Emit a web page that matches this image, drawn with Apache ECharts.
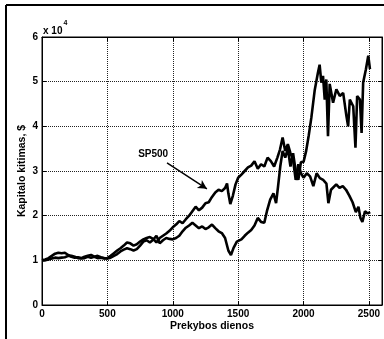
<!DOCTYPE html>
<html><head><meta charset="utf-8">
<script src="https://cdn.jsdelivr.net/npm/echarts@6/dist/echarts.min.js"></script>
<style>html,body{margin:0;padding:0;background:#fff}#c{width:384px;height:339px}</style>
</head><body><div id="c"></div>
<script>
const xTicks = [0, 500, 1000, 1500, 2000, 2500];
const yTicks = [0, 1, 2, 3, 4, 5, 6];
const xName = 'Prekybos dienos';
const yName = 'Kapitalo kitimas, $';
const annotation = 'SP500';

const spDays = [0,25,50,75,100,125,150,175,200,225,250,275,300,325,350,375,400,425,450,475,500,525,550,575,600,625,650,675,700,725,750,775,800,825,850,875,900,925,950,975,1000,1025,1050,1075,1100,1125,1150,1175,1200,1225,1250,1275,1300,1325,1350,1375,1400,1415,1425,1440,1460,1480,1500,1525,1550,1575,1600,1625,1650,1675,1700,1725,1750,1775,1800,1820,1840,1860,1880,1900,1920,1940,1960,1980,2000,2025,2050,2075,2100,2125,2150,2175,2190,2210,2250,2275,2300,2325,2350,2375,2400,2420,2435,2450,2470,2490,2510];
const spVals = [1.00,1.02,1.05,1.10,1.15,1.17,1.16,1.17,1.12,1.08,1.06,1.07,1.05,1.08,1.10,1.12,1.08,1.05,1.06,1.04,1.05,1.10,1.16,1.22,1.27,1.33,1.40,1.38,1.33,1.36,1.42,1.47,1.50,1.52,1.48,1.40,1.50,1.55,1.60,1.66,1.74,1.80,1.88,1.83,1.92,2.00,2.10,2.20,2.12,2.18,2.28,2.30,2.42,2.52,2.58,2.55,2.62,2.72,2.50,2.26,2.45,2.70,2.85,2.92,3.00,3.08,3.12,3.22,3.05,3.15,3.10,3.30,3.22,3.10,3.30,3.48,3.75,3.45,3.60,3.40,3.25,2.80,3.15,2.95,2.85,2.95,2.88,2.66,2.95,2.84,2.80,2.72,2.28,2.58,2.70,2.62,2.66,2.58,2.45,2.30,2.08,2.20,1.95,1.86,2.10,2.05,2.08];

const pfDays = [0,25,50,75,100,125,150,175,200,225,250,275,300,325,350,375,400,425,450,475,500,525,550,575,600,625,650,675,700,725,750,775,800,825,850,875,900,925,950,975,1000,1025,1050,1075,1100,1125,1150,1175,1200,1225,1250,1275,1300,1325,1350,1375,1400,1425,1445,1465,1490,1525,1550,1575,1600,1625,1650,1675,1700,1720,1745,1770,1790,1805,1822,1840,1860,1880,1900,1920,1940,1960,1980,2000,2020,2040,2060,2085,2110,2123,2136,2149,2162,2174,2187,2200,2226,2251,2277,2303,2328,2341,2354,2380,2397,2410,2431,2444,2456,2477,2495,2508];
const pfVals = [1.00,1.00,1.02,1.04,1.06,1.05,1.06,1.07,1.10,1.10,1.08,1.05,1.04,1.05,1.08,1.06,1.08,1.10,1.07,1.05,1.04,1.06,1.10,1.14,1.20,1.24,1.27,1.25,1.22,1.25,1.33,1.42,1.45,1.40,1.46,1.55,1.38,1.45,1.50,1.48,1.47,1.50,1.55,1.65,1.73,1.78,1.84,1.78,1.72,1.76,1.70,1.74,1.80,1.72,1.65,1.61,1.50,1.22,1.12,1.28,1.42,1.47,1.55,1.62,1.68,1.78,1.95,1.86,1.84,2.10,2.36,2.50,2.28,2.65,3.10,3.45,3.30,3.50,3.10,3.40,3.00,2.80,3.20,3.20,3.45,3.80,4.20,4.80,5.20,5.38,4.98,5.13,4.60,5.05,3.78,4.95,4.53,4.83,4.68,4.75,4.23,4.00,4.60,4.45,3.52,4.68,4.60,3.85,4.98,5.28,5.58,5.28];

const spData = spDays.map((d, i) => [d, spVals[i]]);
const pfData = pfDays.map((d, i) => [d, pfVals[i]]);

const font = 'Liberation Sans, Arial, sans-serif';
const lbl = {color:'#000', fontFamily:font, fontWeight:'bold', fontSize:10};

const chart = echarts.init(document.getElementById('c'), null, {renderer:'canvas'});
chart.setOption({
  animation:false,
  backgroundColor:'#fff',
  grid:{left:42, top:37, right:2, bottom:34, show:true, borderColor:'#000', borderWidth:1, outerBoundsMode:'none'},
  xAxis:[{
    type:'value', min:0, max:2600, interval:500, position:'bottom',
    axisLine:{show:true, onZero:false, lineStyle:{color:'#000', width:1}},
    axisTick:{show:true, inside:true, length:4, lineStyle:{color:'#000'}},
    axisLabel:Object.assign({margin:4, formatter: v => xTicks.includes(v) ? String(v) : ''}, lbl),
    splitLine:{show:true, lineStyle:{type:'dotted', color:'#222', width:1}},
    name:xName, nameLocation:'middle', nameGap:16, nameMoveOverlap:false,
    nameTextStyle:{color:'#000', fontFamily:font, fontWeight:'bold', fontSize:10.5, verticalAlign:'top'}
  },{
    type:'value', min:0, max:2600, interval:500, position:'top',
    axisLine:{show:true, onZero:false, lineStyle:{color:'#000', width:1}},
    axisTick:{show:true, inside:true, length:4, lineStyle:{color:'#000'}},
    axisLabel:{show:false}, splitLine:{show:false}
  }],
  yAxis:[{
    type:'value', min:0, max:6, interval:1, position:'left',
    axisLine:{show:true, onZero:false, lineStyle:{color:'#000', width:1}},
    axisTick:{show:true, inside:true, length:4, lineStyle:{color:'#000'}},
    axisLabel:Object.assign({margin:4, formatter: v => yTicks.includes(v) ? String(v) : ''}, lbl),
    splitLine:{show:true, lineStyle:{type:'dotted', color:'#222', width:1}},
    name:yName, nameLocation:'middle', nameGap:14, nameMoveOverlap:false,
    nameTextStyle:{color:'#000', fontFamily:font, fontWeight:'bold', fontSize:10.5}
  },{
    type:'value', min:0, max:6, interval:1, position:'right',
    axisLine:{show:true, onZero:false, lineStyle:{color:'#000', width:1}},
    axisTick:{show:true, inside:true, length:4, lineStyle:{color:'#000'}},
    axisLabel:{show:false}, splitLine:{show:false}
  }],
  graphic:[
    {type:'line', shape:{x1:6, y1:5, x2:384, y2:5}, style:{stroke:'#000', lineWidth:2}},
    {type:'line', shape:{x1:6, y1:5, x2:6, y2:339}, style:{stroke:'#000', lineWidth:2}},
    {type:'text', left:43, top:20, style:{
      text:'{a|x 10}{b|4}', rich:{
        a:{fontFamily:font, fontWeight:'bold', fontSize:10, fill:'#000', padding:[6,0,0,0]},
        b:{fontFamily:font, fontWeight:'bold', fontSize:7, fill:'#000', verticalAlign:'top', padding:[0,0,4,1]}
      }}}
  ],
  series:[{
    type:'line', xAxisIndex:0, yAxisIndex:0, data:spData, showSymbol:false,
    lineStyle:{color:'#000', width:2.6}, silent:true,
    markLine:{silent:true, symbol:['none','arrow'], symbolSize:[7,9],
      lineStyle:{color:'#000', width:1.5, type:'solid'}, label:{show:false},
      data:[[{coord:[956,3.18]},{coord:[1261,2.6]}]]},
    markPoint:{silent:true, data:[{coord:[850,3.37], symbol:'circle', symbolSize:1,
      itemStyle:{color:'rgba(0,0,0,0)'},
      label:{show:true, position:'inside', formatter:annotation, color:'#000', fontFamily:font, fontWeight:'bold', fontSize:10}}]}
  },{
    type:'line', xAxisIndex:0, yAxisIndex:0, data:pfData, showSymbol:false,
    lineStyle:{color:'#000', width:2.6}, silent:true
  }]
});
</script></body></html>
